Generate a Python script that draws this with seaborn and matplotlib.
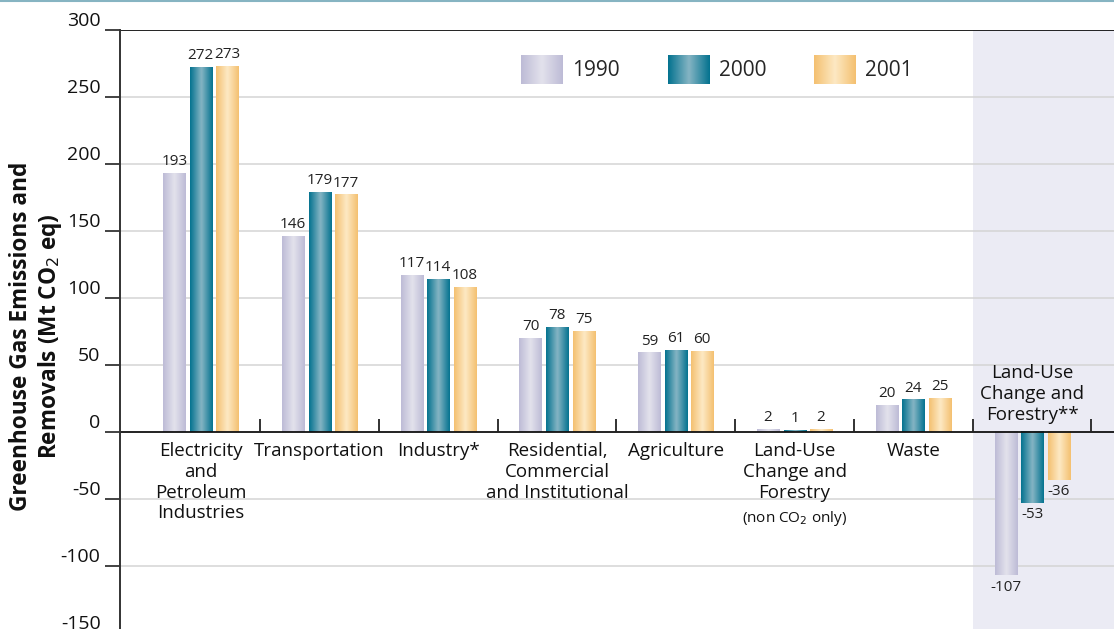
import numpy as np
import pandas as pd
import matplotlib
matplotlib.use("Agg")
import matplotlib.pyplot as plt
import seaborn as sns
from matplotlib.colors import LinearSegmentedColormap
from matplotlib.lines import Line2D

# ---------------- data ----------------
categories = [
    "Electricity\nand\nPetroleum\nIndustries",
    "Transportation",
    "Industry*",
    "Residential,\nCommercial\nand Institutional",
    "Agriculture",
    "Land-Use\nChange and\nForestry",
    "Waste",
    "Land-Use\nChange and\nForestry**",
]
years = ["1990", "2000", "2001"]
v1990 = [193, 146, 117, 70, 59, 2, 20, -107]
v2000 = [272, 179, 114, 78, 61, 1, 24, -53]
v2001 = [273, 177, 108, 75, 60, 2, 25, -36]
yticks = [-150, -100, -50, 0, 50, 100, 150, 200, 250, 300]

# ---------------- style ----------------
edge_cols = ["#bdbbd6", "#03728f", "#f4c070"]
center_cols = ["#e3e2ec", "#86b5c4", "#fde9c4"]

sns.set_theme(style="white")
plt.rcParams["font.family"] = ["Open Sans", "DejaVu Sans"]
plt.rcParams["axes.unicode_minus"] = False

df = pd.DataFrame({
    "cat": np.repeat(categories, 3),
    "year": years * len(categories),
    "val": [v for trip in zip(v1990, v2000, v2001) for v in trip],
})

W, H = 1114, 629
fig = plt.figure(figsize=(W / 100, H / 100), dpi=100)
ax = fig.add_axes([120 / W, -4 / H, 994 / W, 603 / H])

sns.barplot(data=df, x="cat", y="val", hue="year", order=categories,
            hue_order=years, palette=edge_cols, width=0.67, gap=0.17,
            errorbar=None, saturation=1, legend=False, ax=ax, zorder=3)

XL = (-0.68, 7.69)
YL = (-150, 300)

# shaded region for last category
ax.axvspan(6.5, XL[1], color="#ebebf4", zorder=0, lw=0)

# gridlines
for t in yticks:
    if t in (0, 300):
        ax.axhline(t, color="#111111", lw=1.3, zorder=4)
    else:
        ax.axhline(t, color="#d4d4d4", lw=1.1, zorder=1)

# gradient fills for bars
for k, cont in enumerate(ax.containers):
    cmap = LinearSegmentedColormap.from_list(
        "g%d" % k, [edge_cols[k], center_cols[k], edge_cols[k]])
    grad = np.linspace(0, 1, 128)[None, :]
    for p in cont.patches:
        x0, y0, w, h = p.get_x(), p.get_y(), p.get_width(), p.get_height()
        ylo, yhi = min(y0, y0 + h), max(y0, y0 + h)
        p.set_facecolor("none")
        p.set_edgecolor("none")
        ax.imshow(grad, cmap=cmap, extent=[x0, x0 + w, ylo, yhi],
                  aspect="auto", zorder=3, interpolation="bicubic")

ax.set_xlim(*XL)
ax.set_ylim(*YL)

for k, cont in enumerate(ax.containers):
    vals = [v1990, v2000, v2001][k]
    ax.bar_label(cont, labels=[str(v) for v in vals], padding=3,
                 fontsize=11, color="#222222", zorder=5)

# separator ticks on the zero line
ax.vlines([i + 0.5 for i in range(len(categories))], 0, 10,
          color="#222222", lw=1.3, zorder=4)

ax.set_xlim(*XL)
ax.set_ylim(*YL)
ax.set_yticks(yticks)
ax.set_yticklabels([str(t) for t in yticks], fontsize=14, color="#111111")
for lbl in ax.get_yticklabels():
    lbl.set_verticalalignment("bottom")
ax.tick_params(axis="y", direction="out", length=11, width=1.2,
               color="#222222", pad=3, left=True)
ax.set_xticks([])
ax.set_xlabel("")
ax.set_ylabel("")
for s in ["top", "right", "bottom"]:
    ax.spines[s].set_visible(False)
ax.spines["left"].set_color("#333333")
ax.spines["left"].set_linewidth(1.4)
ax.spines["left"].set_zorder(5)

# category labels
for i, c in enumerate(categories):
    if i == len(categories) - 1:
        ax.text(i, 6, c, ha="center", va="bottom", fontsize=13.5,
                linespacing=1.2, color="#111111", zorder=5)
    else:
        ax.text(i, -7.5, c, ha="center", va="top", fontsize=13.5,
                linespacing=1.2, color="#111111", zorder=5)
ax.annotate("(non CO$_2$ only)", xy=(5, -6), xytext=(0, -50),
            textcoords="offset points", ha="center", va="top",
            fontsize=11, color="#111111")

# y label
fig.text(37 / W, 1 - 336 / H,
         "Greenhouse Gas Emissions and\nRemovals (Mt CO$_2$ eq)",
         rotation=90, ha="center", va="center", fontsize=16.3,
         fontweight="bold", color="#111111", linespacing=1.15)

# legend with gradient swatches
handles = [plt.Rectangle((0, 0), 1, 1, facecolor=c, edgecolor="none")
           for c in edge_cols]
leg = ax.legend(handles, years, ncol=3, frameon=False, loc="upper left",
                bbox_to_anchor=(0.395, 0.972), fontsize=15,
                handlelength=2.0, handleheight=1.75, handletextpad=0.45,
                columnspacing=2.3, borderaxespad=0)
fig.canvas.draw()
inv = fig.transFigure.inverted()
for k, lp in enumerate(leg.get_patches()):
    bb = lp.get_window_extent(fig.canvas.get_renderer()).transformed(inv)
    iax = fig.add_axes([bb.x0, bb.y0, bb.width, bb.height])
    cmap = LinearSegmentedColormap.from_list(
        "l%d" % k, [edge_cols[k], center_cols[k], edge_cols[k]])
    iax.imshow(np.linspace(0, 1, 128)[None, :], cmap=cmap, aspect="auto",
               interpolation="bicubic")
    iax.axis("off")
    lp.set_visible(False)

# top border line
fig.add_artist(Line2D([0, 1], [1 - 1 / H, 1 - 1 / H],
                      transform=fig.transFigure, color="#86b4c2", lw=1.5))

fig.savefig("out.png", dpi=100)
